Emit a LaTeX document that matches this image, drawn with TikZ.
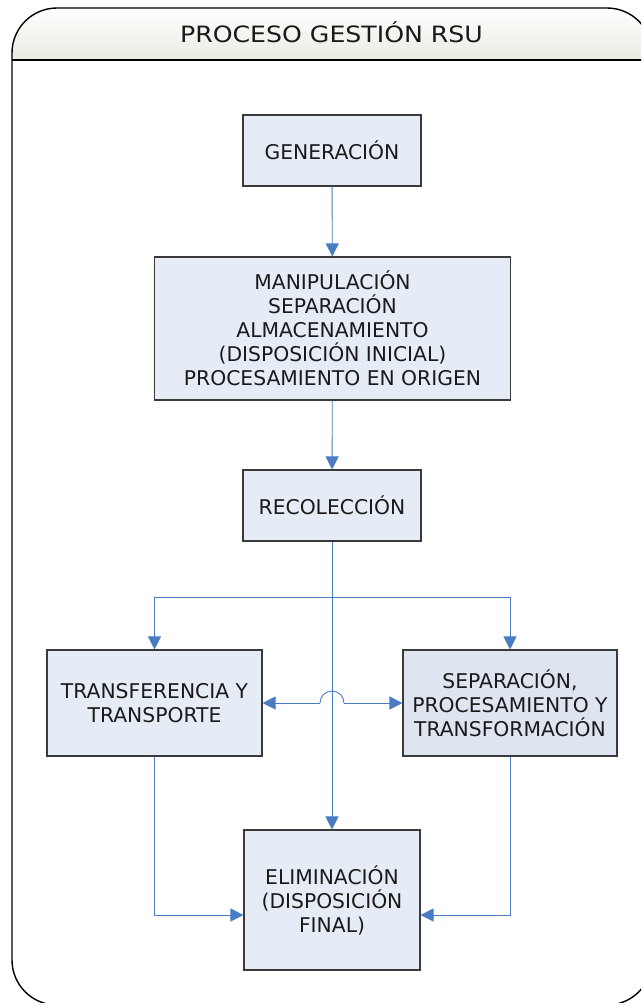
\documentclass[tikz,border=0pt]{standalone}
\usepackage{fontspec}
\setmainfont{DejaVu Sans}
\usetikzlibrary{arrows.meta,calc}
\definecolor{lineblue}{HTML}{4A7CC4}
\definecolor{boxfill}{HTML}{E6ECF6}
\definecolor{boxfillb}{HTML}{DEE5F1}
\definecolor{boxedge}{HTML}{3A3A3A}
\definecolor{hdrbot}{HTML}{E9EBE2}
\definecolor{txt}{HTML}{1A1A1A}
\begin{document}
\begin{tikzpicture}[x=1pt,y=-1pt,
  box/.style={draw=boxedge,line width=1.1pt,fill=boxfill,align=center,text=txt,
    font=\fontsize{20.3}{24}\selectfont,inner sep=0pt},
  conn/.style={draw=lineblue,line width=0.9pt},
  tip/.style={-{Triangle[length=13pt,width=13pt]}},
]
\useasboundingbox (0,0) rectangle (641,1003);
\begin{scope}
\clip (0,0) rectangle (641,1003);
% header band
\path[top color=white,bottom color=hdrbot]
  (12,60) -- (12,53) arc[start angle=180,end angle=90,radius=45pt] -- (607,8)
  arc[start angle=90,end angle=0,radius=45pt] -- (652,60) -- cycle;
\draw[line width=1.4pt,rounded corners=45pt]
  (12,300) -- (12,8) -- (652,8) -- (652,1005) -- (12,1005) -- (12,300);
\draw[line width=1.4pt] (12,60) -- (652,60);
\end{scope}
\node[text=txt,font=\fontsize{22.5}{24}\selectfont,xscale=1.12] (title) at (331.5,32) {PROCESO GESTIÓN RSU};

\node[box,minimum width=178pt,minimum height=71pt] (gen) at (332,150.5) {GENERACIÓN};
\node[box,minimum width=356pt,minimum height=143pt] (man) at (332.5,328.5)
  {MANIPULACIÓN\\SEPARACIÓN\\ALMACENAMIENTO\\(DISPOSICIÓN INICIAL)\\PROCESAMIENTO EN ORIGEN};
\node[box,minimum width=178pt,minimum height=71pt] (rec) at (332,505.5) {RECOLECCIÓN};
\node[box,minimum width=215pt,minimum height=106pt] (tra) at (154.5,703) {TRANSFERENCIA Y\\TRANSPORTE};
\node[box,fill=boxfillb,minimum width=214pt,minimum height=106pt] (sep) at (510,703)
  {SEPARACIÓN,\\PROCESAMIENTO Y\\TRANSFORMACIÓN};
\node[box,minimum width=176pt,minimum height=140pt] (eli) at (332,900) {ELIMINACIÓN\\(DISPOSICIÓN\\FINAL)};

\draw[conn,tip] (gen) -- (man);
\draw[conn,tip] (man) -- (rec);
\draw[conn,tip] (rec) -- (eli);
\coordinate (br) at ($(rec.south)+(0,56)$);
\draw[conn,tip] (br) -| (tra.north);
\draw[conn,tip] (br) -| (sep.north);
\coordinate (jl) at ($(rec.south |- tra.east)+(-12,0)$);
\coordinate (jr) at ($(rec.south |- tra.east)+(12,0)$);
\draw[conn,{Triangle[length=13pt,width=13pt]}-] (tra.east) -- (jl);
\draw[conn] (jl) arc[start angle=180,end angle=0,radius=12pt];
\draw[conn,tip] (jr) -- (sep.west);
\draw[conn,tip] (tra.south) |- ($(eli.west)+(0,15)$);
\draw[conn,tip] (sep.south) |- ($(eli.east)+(0,15)$);
\end{tikzpicture}
\end{document}
